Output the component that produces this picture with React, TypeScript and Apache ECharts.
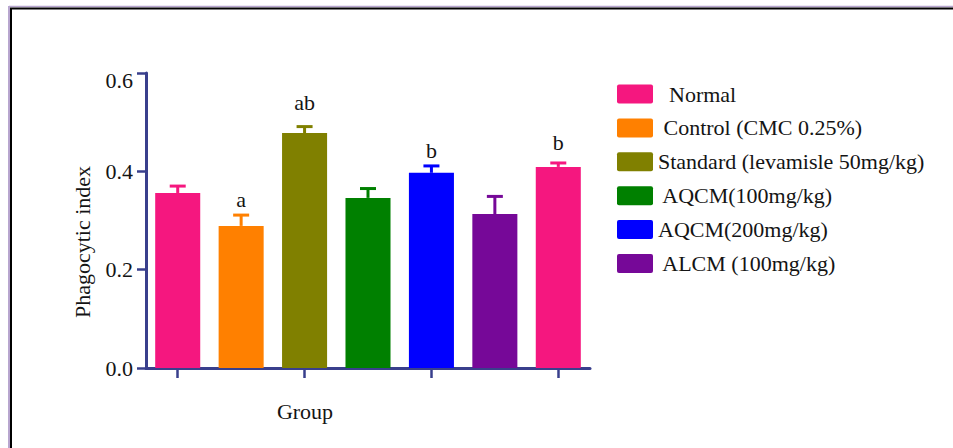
import React, { useEffect, useRef } from "react";
import * as echarts from "echarts";

const categories = ["Normal", "Control", "Standard", "AQCM100", "AQCM200", "ALCM100", "ALCM200"];
const means = [0.356, 0.289, 0.478, 0.346, 0.397, 0.313, 0.409];
const sems = [0.014, 0.022, 0.013, 0.019, 0.014, 0.036, 0.008];
const barColors = ["#f5177f", "#ff8000", "#808000", "#008000", "#0000ff", "#760898", "#f5177f"];
const letters = ["", "a", "ab", "", "b", "", "b"];
const letterValues = [0, 0.342, 0.541, 0, 0.443, 0, 0.458];
const legendNames = [
  "  Normal",
  " Control (CMC 0.25%)",
  "Standard (levamisle 50mg/kg)",
  " AQCM(100mg/kg)",
  "AQCM(200mg/kg)",
  " ALCM (100mg/kg)",
];
const legendColors = ["#f5177f", "#ff8000", "#808000", "#008000", "#0000ff", "#760898"];
const yAxisTitle = "Phagocytic index";
const xAxisTitle = "Group";

const FONT = '"Liberation Serif", "Times New Roman", serif';
const AXIS = "#393f8c";
const TXT = "#141414";

export default function App() {
  const ref = useRef<HTMLDivElement>(null);
  useEffect(() => {
    if (!ref.current) return;
    const chart = echarts.init(ref.current, null, { renderer: "svg" });

    const legendGraphics: any[] = [];
    legendNames.forEach((n, i) => {
      const cy = 94 + i * 33.9;
      legendGraphics.push({
        type: "rect",
        shape: { x: 617, y: cy - 9.5, width: 36, height: 19, r: 2 },
        style: { fill: legendColors[i] },
      });
      legendGraphics.push({
        type: "text",
        x: 658,
        y: cy,
        style: {
          text: n,
          fill: TXT,
          fontSize: 22,
          fontFamily: FONT,
          align: "left",
          verticalAlign: "middle",
        },
      });
    });

    const option: any = {
      animation: false,
      backgroundColor: "#ffffff",
      grid: {
        left: 146,
        top: 73,
        width: 444,
        height: 295,
        containLabel: false,
        outerBoundsMode: "none",
      },
      xAxis: {
        type: "category",
        data: categories,
        axisLine: { show: true, lineStyle: { color: AXIS, width: 3 } },
        axisTick: { show: true, alignWithLabel: true, length: 10, lineStyle: { color: AXIS, width: 2.5 } },
        axisLabel: { show: false },
        splitLine: { show: false },
      },
      yAxis: {
        type: "value",
        min: 0,
        max: 0.6,
        interval: 0.2,
        axisLine: { show: true, lineStyle: { color: AXIS, width: 3 } },
        axisTick: { show: true, length: 9, lineStyle: { color: AXIS, width: 2.5 } },
        splitLine: { show: false },
        axisLabel: {
          margin: 13,
          color: TXT,
          fontSize: 22,
          fontFamily: FONT,
          formatter: (v: number) =>
            v > 0.59 ? `{mx|${v.toFixed(1)}}` : v.toFixed(1),
          rich: {
            mx: { padding: [14, 0, 0, 0], fontSize: 22, fontFamily: FONT, color: TXT },
          },
        },
      },
      series: [
        {
          type: "bar",
          barCategoryGap: "29%",
          data: means.map((v, i) => ({ value: v, itemStyle: { color: barColors[i] } })),
          z: 2,
        },
        {
          type: "custom",
          z: 3,
          data: means.map((m, i) => [i, m, sems[i]]),
          renderItem: (params: any, api: any) => {
            const i = api.value(0);
            const m = api.value(1);
            const s = api.value(2);
            const base = api.coord([i, m]);
            const top = api.coord([i, m + s]);
            const c = barColors[i];
            const children: any[] = [
              {
                type: "line",
                shape: { x1: base[0], y1: base[1], x2: top[0], y2: top[1] },
                style: { stroke: c, lineWidth: 3 },
              },
              {
                type: "line",
                shape: { x1: top[0] - 8, y1: top[1], x2: top[0] + 8, y2: top[1] },
                style: { stroke: c, lineWidth: 3 },
              },
            ];
            if (letters[i]) {
              const p = api.coord([i, letterValues[i]]);
              children.push({
                type: "text",
                x: p[0],
                y: p[1],
                style: {
                  text: letters[i],
                  fill: TXT,
                  fontSize: 22,
                  fontFamily: FONT,
                  align: "center",
                  verticalAlign: "middle",
                },
              });
            }
            return { type: "group", children };
          },
        },
      ],
      graphic: [
        { type: "line", shape: { x1: 9, y1: 6.5, x2: 953, y2: 6.5 }, style: { stroke: "#b8a6cf", lineWidth: 1.5 } },
        { type: "line", shape: { x1: 10, y1: 8.5, x2: 953, y2: 8.5 }, style: { stroke: "#000000", lineWidth: 2 } },
        { type: "line", shape: { x1: 9, y1: 6, x2: 9, y2: 448 }, style: { stroke: "#b8a6cf", lineWidth: 2 } },
        { type: "line", shape: { x1: 11, y1: 8, x2: 11, y2: 448 }, style: { stroke: "#000000", lineWidth: 2 } },
        {
          type: "text",
          x: 82,
          y: 242,
          rotation: Math.PI / 2,
          style: {
            text: yAxisTitle,
            fill: TXT,
            fontSize: 22,
            fontFamily: FONT,
            align: "center",
            verticalAlign: "middle",
          },
        },
        {
          type: "text",
          x: 305,
          y: 411,
          style: {
            text: xAxisTitle,
            fill: TXT,
            fontSize: 22,
            fontFamily: FONT,
            align: "center",
            verticalAlign: "middle",
          },
        },
        ...legendGraphics,
      ],
    };
    chart.setOption(option);
    return () => chart.dispose();
  }, []);
  return (
    <div
      ref={ref}
      style={{ position: "fixed", left: 0, top: 0, width: 953, height: 448, background: "#fff" }}
    />
  );
}
